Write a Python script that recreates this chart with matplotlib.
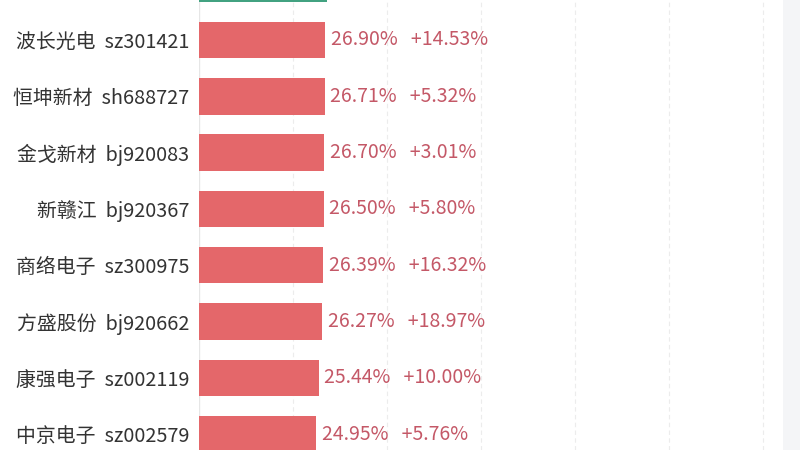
import matplotlib
matplotlib.use("Agg")
import matplotlib.pyplot as plt
from matplotlib.patches import Rectangle

plt.rcParams["font.family"] = ["Noto Sans CJK SC", "DejaVu Sans"]

# ---------------------------------------------------------------------------
# Data (top row is the partially visible green bar, cut off by the frame)
# ---------------------------------------------------------------------------
names = ["", "波长光电", "恒坤新材", "金戈新材", "新赣江", "商络电子",
         "方盛股份", "康强电子", "中京电子"]
codes = ["", "sz301421", "sh688727", "bj920083", "bj920367", "sz300975",
         "bj920662", "sz002119", "sz002579"]
values = [27.2, 26.90, 26.71, 26.70, 26.50, 26.39, 26.27, 25.44, 24.95]
changes = [None, 14.53, 5.32, 3.01, 5.80, 16.32, 18.97, 10.00, 5.76]
bar_colors = ["#42a281"] + ["#e4676a"] * 8

fig = plt.figure(figsize=(8, 4.5), dpi=100)
fig.patch.set_facecolor("white")

# light grey strip at the right edge
fig.add_artist(Rectangle((783 / 800, 0), 17 / 800, 1, transform=fig.transFigure,
                         facecolor="#f4f5f7", edgecolor="none", zorder=0))

ax = fig.add_axes([199 / 800, 0, 584 / 800, 1])
ax.set_facecolor("white")

ypos = [i - 1 for i in range(len(values))]
ax.barh(ypos, values, height=0.65, color=bar_colors, zorder=3)

for y, v, c in zip(ypos, values, changes):
    if c is None:
        continue
    ax.text(v + 1.2, y, f"{v:.2f}%   +{c:.2f}%", va="center", ha="left",
            fontsize=14, color="#c45867", zorder=4)

ax.set_xticks([20, 40, 60, 80, 100, 120])
ax.grid(axis="x", color="#ececec", linestyle=(0, (4, 3)), linewidth=0.8, zorder=1)
ax.axvline(0, color="#e6e6e6", linewidth=1, zorder=2)
ax.tick_params(axis="x", length=0, labelbottom=False)

ax.set_yticks(ypos)
ax.set_yticklabels([f"{n}  {c}" if n else "" for n, c in zip(names, codes)],
                   fontsize=14.3, color="#333333")
ax.tick_params(axis="y", length=0, pad=7)

# limits after ticks so the hidden top tick doesn't widen the view
ax.set_xlim(0, 584 / 4.7)
ax.set_ylim((450 - 40) / 56.3, -40 / 56.3)

for s in ax.spines.values():
    s.set_visible(False)

fig.savefig("out.png", dpi=100, facecolor=fig.get_facecolor())
